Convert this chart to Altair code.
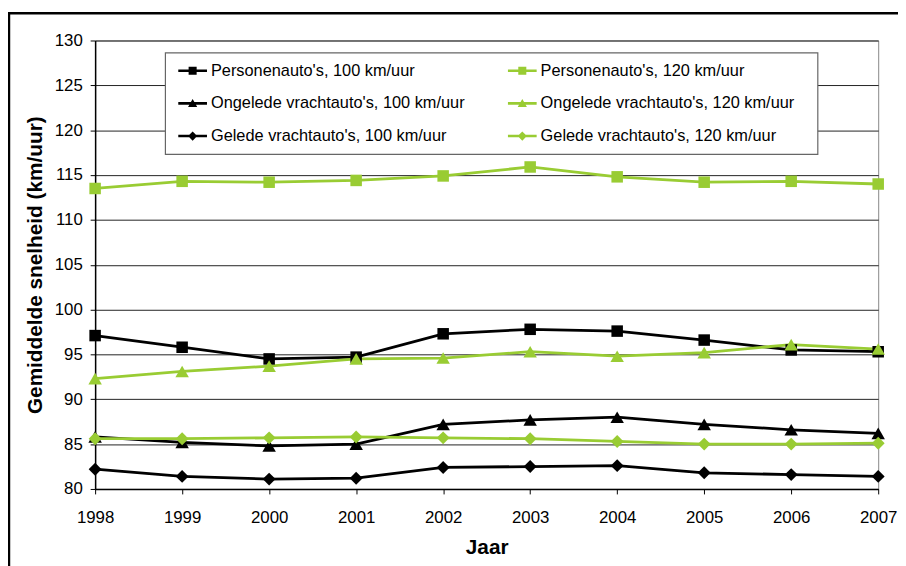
import altair as alt
import pandas as pd

years = [1998, 1999, 2000, 2001, 2002, 2003, 2004, 2005, 2006, 2007]

series_names = [
    "Personenauto's, 100 km/uur",
    "Personenauto's, 120 km/uur",
    "Ongelede vrachtauto's, 100 km/uur",
    "Ongelede vrachtauto's, 120 km/uur",
    "Gelede vrachtauto's, 100 km/uur",
    "Gelede vrachtauto's, 120 km/uur",
]

personen_100 = [97.1, 95.8, 94.5, 94.7, 97.3, 97.8, 97.6, 96.6, 95.5, 95.3]
personen_120 = [113.5, 114.3, 114.2, 114.4, 114.9, 115.9, 114.8, 114.2, 114.3, 114.0]
ongelede_100 = [85.8, 85.2, 84.8, 85.0, 87.2, 87.7, 88.0, 87.2, 86.6, 86.2]
ongelede_120 = [92.3, 93.1, 93.7, 94.5, 94.6, 95.3, 94.8, 95.2, 96.1, 95.6]
gelede_100 = [82.2, 81.4, 81.1, 81.2, 82.4, 82.5, 82.6, 81.8, 81.6, 81.4]
gelede_120 = [85.6, 85.6, 85.7, 85.8, 85.7, 85.6, 85.3, 85.0, 85.0, 85.1]

series_values = [personen_100, personen_120, ongelede_100, ongelede_120, gelede_100, gelede_120]
series_markers = ["square", "square", "triangle-up", "triangle-up", "diamond", "diamond"]
series_sizes = [135, 135, 185, 185, 170, 170]

BLACK = "#000000"
GREEN = "#99CC33"
series_colors = [BLACK, GREEN, BLACK, GREEN, BLACK, GREEN]

rows = []
for name, vals, mk, sz, col in zip(series_names, series_values, series_markers, series_sizes, series_colors):
    for y, v in zip(years, vals):
        rows.append({"year": y, "value": v, "series": name, "marker": mk, "msize": sz, "hex": col})
df = pd.DataFrame(rows)

LINE = "M-1,-0.09H1V0.09H-1Z"
SQ = LINE + "M-0.28,-0.28H0.28V0.28H-0.28Z"
TR = LINE + "M0,-0.3L0.32,0.26H-0.32Z"
DI = LINE + "M0,-0.32L0.32,0L0,0.32L-0.32,0Z"

# legend fills column by column: 100 km/uur in the first column, 120 km/uur in the second
legend_order = [series_names[i] for i in (0, 2, 4, 1, 3, 5)]
legend_colors = [BLACK, BLACK, BLACK, GREEN, GREEN, GREEN]
legend_paths = [SQ, TR, DI, SQ, TR, DI]

FONT = "Liberation Sans"

x_enc = alt.X(
    "year:Q",
    scale=alt.Scale(domain=[1998, 2007], nice=False, zero=False),
    axis=alt.Axis(
        values=years, format="d", grid=False, tickSize=5, labelPadding=16,
        labelFlush=False, labelFontSize=17, title="Jaar", titleFontSize=21,
        titleFontWeight="bold", titlePadding=11,
    ),
)
y_enc = alt.Y(
    "value:Q",
    scale=alt.Scale(domain=[80, 130], nice=False, zero=False),
    axis=alt.Axis(
        values=list(range(80, 131, 5)), grid=True, tickSize=5, labelPadding=8,
        labelFontSize=17, title="Gemiddelde snelheid (km/uur)", titleFontSize=21,
        titleFontWeight="bold", titlePadding=9,
    ),
)

one = pd.DataFrame({"a": [0]})

frame = alt.Chart(one).mark_rect(
    filled=False, stroke="black", strokeWidth=2.5
).encode(
    x=alt.value(-87), x2=alt.value(2000), y=alt.value(-27.5), y2=alt.value(2000)
)

legend_box = alt.Chart(one).mark_rect(
    fill="white", stroke="#666666", strokeWidth=1.2
).encode(
    x=alt.value(71), x2=alt.value(730), y=alt.value(12.5), y2=alt.value(115)
)

lines = alt.Chart(df).mark_line(strokeWidth=2.8).encode(
    x=x_enc,
    y=y_enc,
    color=alt.Color("hex:N", scale=None),
    detail="series:N",
    order=alt.Order("year:Q"),
)

points = alt.Chart(df).mark_point(filled=True, opacity=1, strokeWidth=0).encode(
    x=x_enc,
    y=y_enc,
    color=alt.Color("hex:N", scale=None),
    shape=alt.Shape("marker:N", scale=None),
    size=alt.Size("msize:Q", scale=None),
)

leg = alt.Legend(
    orient="none", legendX=84, legendY=16, columns=2, title=None,
    symbolSize=841, symbolStrokeWidth=0, symbolOpacity=1,
    labelFont=FONT, labelFontSize=16.5, labelColor="black", labelOffset=4, labelLimit=400,
    rowPadding=10, columnPadding=43, padding=0,
)

legend_layer = alt.Chart(df).transform_filter("false").mark_point(
    filled=True, opacity=1
).encode(
    x=x_enc,
    y=y_enc,
    color=alt.Color("series:N", scale=alt.Scale(domain=legend_order, range=legend_colors), legend=leg),
    shape=alt.Shape("series:N", scale=alt.Scale(domain=legend_order, range=legend_paths), legend=leg),
)

chart = alt.layer(frame, legend_box, lines, points, legend_layer).properties(
    width=791,
    height=453,
    autosize=alt.AutoSizeParams(type="none"),
    padding={"left": 88, "top": 30, "right": 20, "bottom": 76},
).configure(
    font=FONT,
).configure_view(
    stroke="#888888", strokeWidth=1,
).configure_axis(
    labelFont=FONT, labelColor="black",
    titleFont=FONT, titleColor="black",
    domainColor="black", domainWidth=1.5, tickColor="black", tickWidth=1,
    gridColor="#222222", gridWidth=1, gridOpacity=1,
)

chart.save("out.html", embed_options={"renderer": "svg", "actions": False})
